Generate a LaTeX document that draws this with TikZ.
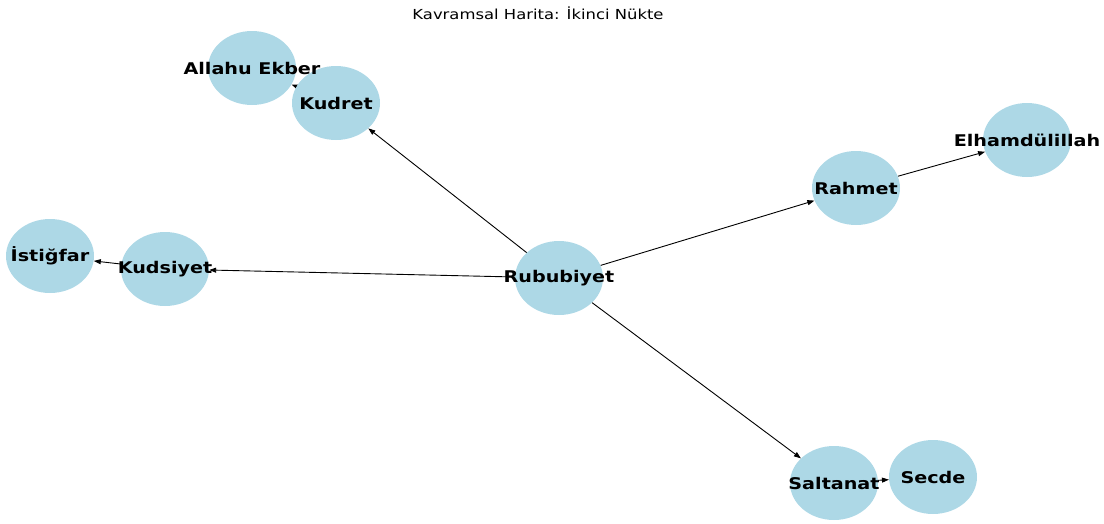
\documentclass[tikz,border=0pt]{standalone}
\usepackage{fontspec}
\setmainfont{DejaVu Sans}
\usetikzlibrary{shapes.geometric, arrows.meta, backgrounds}
\definecolor{lightblue}{HTML}{ADD8E6}
\newcommand\wide[1]{\scalebox{1.19}[1]{#1}}
\tikzset{>={Triangle[length=7pt, width=5pt]}}
\tikzset{
    concept/.style = {ellipse, fill=lightblue, minimum width=88pt, minimum height=74pt, inner sep=0pt},
    tag/.style = {font=\fontsize{16.1}{18}\selectfont\bfseries},
    link/.style = {->, line width=0.9pt}
}

\begin{document}
\begin{tikzpicture}[x=1pt, y=-1pt]
    \useasboundingbox (0,0) rectangle (1104,523);
    \node[font=\fontsize{13.8}{15}\selectfont] (title) at (538,13) {\wide{Kavramsal Harita: İkinci Nükte}};
    % concepts
    \node[concept, label={[tag]center:\wide{Rububiyet}}] (rub) at (559,278) {};
    \node[concept, label={[tag]center:\wide{Kudret}}] (kud) at (336,103) {};
    \node[concept, label={[tag]center:\wide{Allahu Ekber}}] (ekb) at (252,68) {};
    \node[concept, label={[tag]center:\wide{Rahmet}}] (rah) at (856,188) {};
    \node[concept, label={[tag]center:\wide{Elhamdülillah}}] (elh) at (1027,140) {};
    \node[concept, label={[tag]center:\wide{Kudsiyet}}] (kds) at (165,269) {};
    \node[concept, label={[tag]center:\wide{İstiğfar}}] (ist) at (50,256) {};
    \node[concept, label={[tag]center:\wide{Saltanat}}] (sal) at (834,483) {};
    \node[concept, label={[tag]center:\wide{Secde}}] (sec) at (933,477) {};
    % links
    \begin{scope}[on background layer]
        \foreach \a/\b in {rub/kud, kud/ekb, rub/rah, rah/elh, rub/kds, kds/ist, rub/sal, sal/sec}
            \draw[link] (\a) -- (\b);
    \end{scope}
\end{tikzpicture}
\end{document}
